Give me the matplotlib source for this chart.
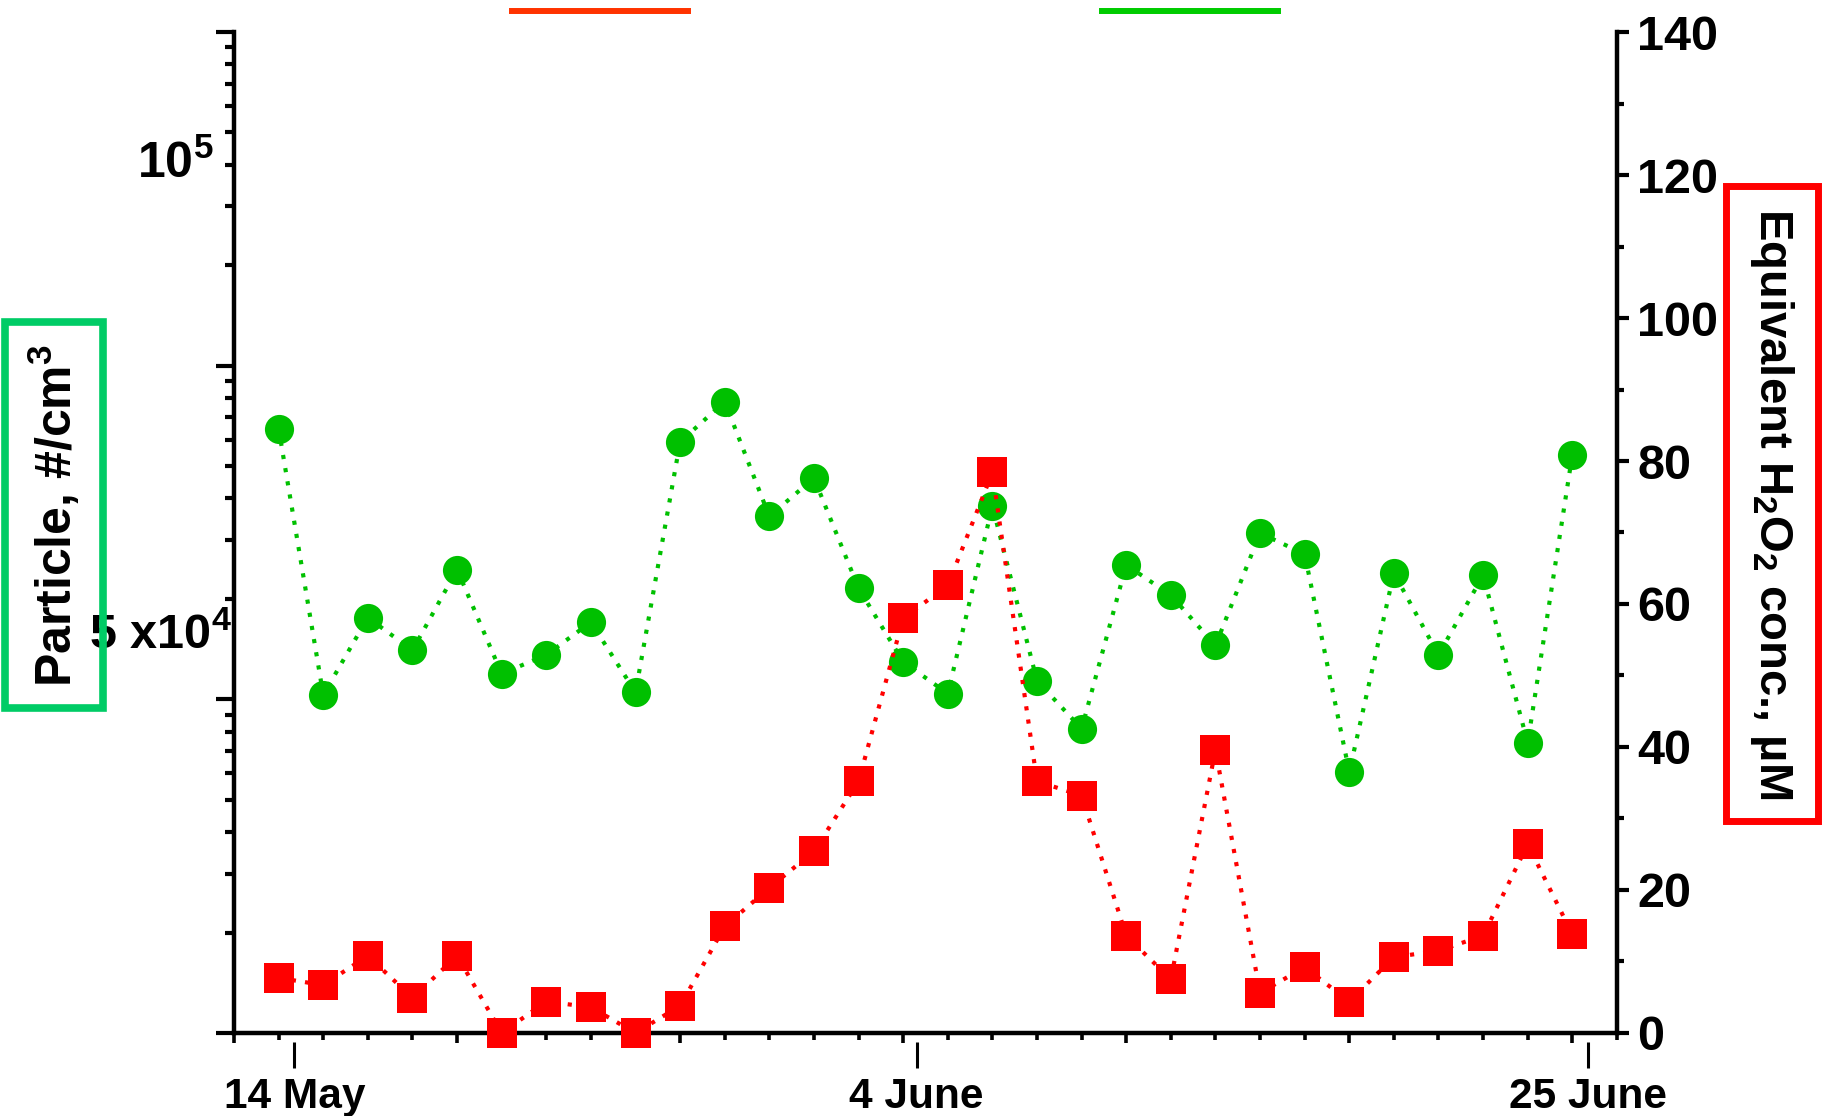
import matplotlib
matplotlib.use("Agg")
import matplotlib.pyplot as plt
from matplotlib.lines import Line2D
from matplotlib.ticker import LogLocator, MultipleLocator, NullLocator, NullFormatter
import numpy as np

plt.rcParams['font.family'] = ['Liberation Sans', 'DejaVu Sans']
plt.rcParams['font.weight'] = 'bold'
plt.rcParams['mathtext.default'] = 'regular'

# one sample every ~1.5 days between 14 May and 25 June
sample = list(range(1, 31))

# particle number concentration, #/cm3
particles = [67800, 45860, 51370, 48960, 55130, 47300, 48630, 51030, 46030, 66500,
             70540, 59600, 63060, 53630, 48140, 45940, 60510, 46820, 43630, 55500,
             53090, 49310, 58160, 56390, 40950, 54840, 48630, 54660, 42740, 65260]

# equivalent H2O2 concentration, uM
h2o2 = [7.7, 6.7, 10.8, 4.9, 10.8, 0.0, 4.4, 3.6, 0.0, 3.8,
        14.9, 20.3, 25.4, 35.2, 58.0, 62.6, 78.4, 35.2, 33.2, 13.6,
        7.5, 39.6, 5.6, 9.2, 4.4, 10.6, 11.5, 13.6, 26.4, 13.8]

date_labels = ['14 May', '4 June', '25 June']
date_ticks = [1.35, 15.3, 30.35]

green = '#00C000'
red = '#FF0000'
dots = (0, (1, 2.2))

fig = plt.figure(figsize=(18.37, 11.16), dpi=100)
ax = fig.add_axes([0.1274, 0.0744, 0.7528, 0.8969])

# particles, log scale on the left
ax.set_yscale('log')
ax.set_ylim(27910, 121400)
ax.set_xlim(0, 31)
ax.plot(sample, particles, color=green, marker='o', ms=21, mew=0, ls=dots, lw=3,
        clip_on=False, zorder=3)
ax.spines['top'].set_visible(False)
ax.spines['right'].set_visible(False)
ax.spines['left'].set_linewidth(3.2)
ax.spines['bottom'].set_linewidth(3.2)
ax.yaxis.set_major_locator(NullLocator())
ax.yaxis.set_minor_locator(NullLocator())
ax.xaxis.set_major_locator(MultipleLocator(5))
ax.xaxis.set_minor_locator(MultipleLocator(1))
ax.tick_params(axis='x', which='major', length=7, width=2.6, labelbottom=False)
ax.tick_params(axis='x', which='minor', length=5, width=2.6)

ax.text(-0.0145, 1e5, '10$^5$', transform=ax.get_yaxis_transform(),
        ha='right', va='center', fontsize=36)
ax.text(-0.0015, 5e4, '5 x10$^4$', transform=ax.get_yaxis_transform(),
        ha='right', va='center', fontsize=35)

# H2O2 on the right
ax2 = ax.twinx()
ax2.set_ylim(0, 140)
ax2.plot(sample, h2o2, color=red, marker='s', ms=21, mew=0, ls=dots, lw=3,
         clip_on=False, zorder=3)
for s in ['top', 'left', 'bottom']:
    ax2.spines[s].set_visible(False)
ax2.spines['right'].set_linewidth(3.2)
ax2.yaxis.set_major_locator(MultipleLocator(20))
ax2.yaxis.set_minor_locator(MultipleLocator(10))
ax2.tick_params(axis='y', which='major', length=8.6, width=3, pad=6, labelsize=35)
ax2.tick_params(axis='y', which='minor', length=5, width=3)

# left tick marks as they appear on the original (3 decade log ladder)
ghost = fig.add_axes(ax.get_position(), frameon=False)
ghost.set_yscale('log')
ghost.set_ylim(1e3, 1e6)
ghost.set_xticks([])
ghost.yaxis.set_major_locator(LogLocator(base=10))
ghost.yaxis.set_minor_locator(LogLocator(base=10, subs=np.arange(2, 10)))
ghost.yaxis.set_major_formatter(NullFormatter())
ghost.yaxis.set_minor_formatter(NullFormatter())
ghost.tick_params(axis='y', which='major', length=13, width=3)
ghost.tick_params(axis='y', which='minor', length=6.5, width=3)

# date labels
sec = ax.secondary_xaxis(-0.009)
sec.spines['bottom'].set_visible(False)
sec.set_xticks(date_ticks, labels=date_labels)
sec.tick_params(axis='x', length=18.7, width=2.2, pad=6.5, labelsize=30.5)

# axis titles in boxes
fig.text(0.0294, 0.5385, 'Particle, #/cm$^3$', rotation=90, ha='center', va='center',
         fontsize=36, bbox=dict(boxstyle='square,pad=0.42', fc='none', ec='#00CC66', lw=5.5))
fig.text(0.9646, 0.549, 'Equivalent H$_2$O$_2$ conc., µM', rotation=270, ha='center',
         va='center', fontsize=34,
         bbox=dict(boxstyle='square,pad=0.46', fc='none', ec=red, lw=5))

# short coloured bars along the top edge
fig.add_artist(Line2D([0.2787, 0.3745], [0.990, 0.990], color='#FF3300', lw=4.3))
fig.add_artist(Line2D([0.600, 0.6957], [0.990, 0.990], color='#00CC00', lw=4.3))

fig.savefig('out.png', dpi=100)
